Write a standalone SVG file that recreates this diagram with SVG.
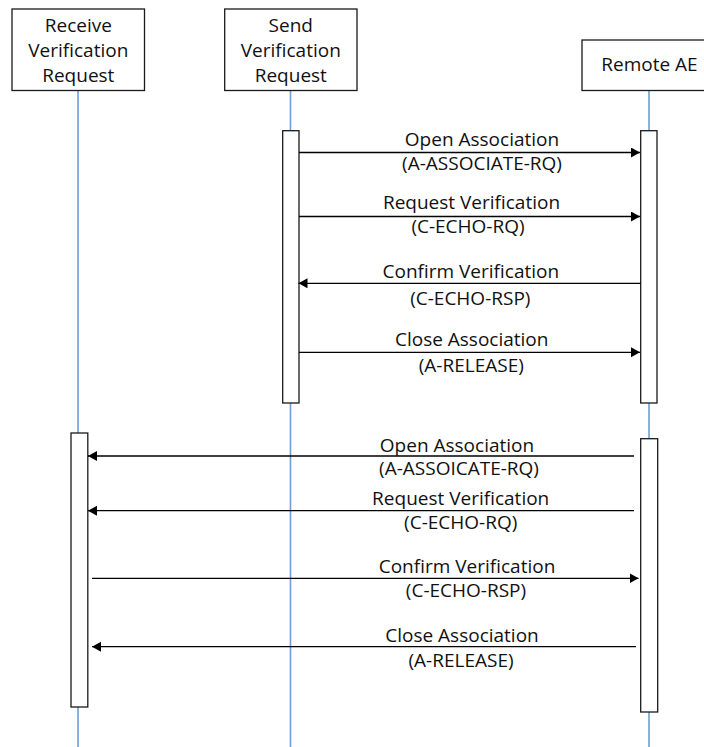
<svg xmlns="http://www.w3.org/2000/svg" width="704" height="747" viewBox="0 0 704 747">
<style>
  .box { fill: #ffffff; stroke: #1a1a1a; stroke-width: 1.3; }
  .act { fill: #ffffff; stroke: #1a1a1a; stroke-width: 1.3; }
  .life { stroke: #6f9fd4; stroke-width: 1.6; fill: none; }
  .msg { stroke: #000000; stroke-width: 1.3; fill: none; marker-end: url(#arrow); }
  text { font-family: "Open Sans", "Noto Sans", "Liberation Sans", sans-serif; font-size: 19px; fill: #111111; text-anchor: middle; }
</style>
<defs>
  <marker id="arrow" markerUnits="userSpaceOnUse" markerWidth="10" markerHeight="11" refX="9" refY="5" orient="auto">
    <path d="M0,0 L9,5 L0,10 Z" fill="#000000"/>
  </marker>
</defs>

<g id="lifelines">
  <line class="life" x1="78" y1="91" x2="78" y2="747"/>
  <line class="life" x1="290.5" y1="91" x2="290.5" y2="747"/>
  <line class="life" x1="649" y1="91" x2="649" y2="747"/>
</g>

<g id="node-receive">
  <rect class="box" x="12" y="9" width="132.5" height="81.5"/>
  <text x="78.3" y="31.5">Receive</text>
  <text x="78.3" y="57">Verification</text>
  <text x="78.3" y="81.5">Request</text>
</g>
<g id="node-send">
  <rect class="box" x="224.7" y="9" width="132.3" height="81.5"/>
  <text x="290.8" y="31.5">Send</text>
  <text x="290.8" y="57">Verification</text>
  <text x="290.8" y="81.5">Request</text>
</g>
<g id="node-remote">
  <rect class="box" x="582" y="40" width="134" height="50.5"/>
  <text x="649.5" y="71">Remote AE</text>
</g>

<g id="activations">
  <rect class="act" x="282.7" y="130.7" width="16.3" height="272.3"/>
  <rect class="act" x="640.7" y="130.7" width="16.3" height="272.3"/>
  <rect class="act" x="71" y="433" width="16.8" height="274"/>
  <rect class="act" x="640.7" y="438.7" width="17" height="273.3"/>
</g>

<g id="connectors">
  <line class="msg" x1="299" y1="152.5" x2="640" y2="152.5"/>
  <line class="msg" x1="299" y1="216.5" x2="640" y2="216.5"/>
  <line class="msg" x1="640.7" y1="283.3" x2="298.5" y2="283.3"/>
  <line class="msg" x1="299" y1="352.3" x2="640" y2="352.3"/>
  <line class="msg" x1="634" y1="456" x2="88" y2="456"/>
  <line class="msg" x1="634" y1="510.7" x2="88" y2="510.7"/>
  <line class="msg" x1="92" y1="578.3" x2="638.5" y2="578.3"/>
  <line class="msg" x1="636" y1="646.7" x2="92" y2="646.7"/>
</g>

<g id="labels">
  <text x="482" y="146">Open Association</text>
  <text x="482" y="170">(A-ASSOCIATE-RQ)</text>
  <text x="471.5" y="209">Request Verification</text>
  <text x="468" y="233">(C-ECHO-RQ)</text>
  <text x="470.8" y="277.5">Confirm Verification</text>
  <text x="470.3" y="305">(C-ECHO-RSP)</text>
  <text x="471.7" y="346.3">Close Association</text>
  <text x="471.3" y="371.5">(A-RELEASE)</text>

  <text x="457" y="451.5">Open Association</text>
  <text x="459" y="475">(A-ASSOICATE-RQ)</text>
  <text x="460.7" y="505">Request Verification</text>
  <text x="460.7" y="529">(C-ECHO-RQ)</text>
  <text x="467" y="573">Confirm Verification</text>
  <text x="466" y="597">(C-ECHO-RSP)</text>
  <text x="462" y="642">Close Association</text>
  <text x="461" y="667">(A-RELEASE)</text>
</g>
</svg>
